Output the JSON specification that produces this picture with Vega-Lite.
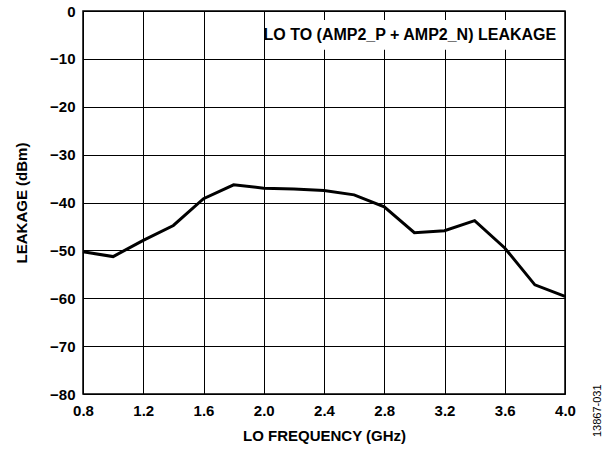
{
  "$schema": "https://vega.github.io/schema/vega-lite/v6.json",
  "autosize": "none",
  "width": 482,
  "height": 383,
  "padding": {"left": 83, "top": 11, "right": 49, "bottom": 55},
  "background": "white",
  "config": {
    "font": "Liberation Sans",
    "view": {"stroke": "black", "strokeWidth": 1.5},
    "axis": {
      "grid": true,
      "gridColor": "black",
      "gridOpacity": 1,
      "gridWidth": 1,
      "domain": false,
      "ticks": false,
      "labelFlush": false,
      "labelFont": "Liberation Sans",
      "labelFontWeight": "bold",
      "labelFontSize": 15,
      "labelColor": "black",
      "titleFont": "Liberation Sans",
      "titleFontWeight": "bold",
      "titleFontSize": 15,
      "titleColor": "black"
    }
  },
  "datasets": {
    "leak": [
      {"f": 0.8, "dbm": -50.3},
      {"f": 1.0, "dbm": -51.3},
      {"f": 1.2, "dbm": -47.9},
      {"f": 1.4, "dbm": -44.8},
      {"f": 1.6, "dbm": -39.2},
      {"f": 1.8, "dbm": -36.3},
      {"f": 2.0, "dbm": -37.0},
      {"f": 2.2, "dbm": -37.2},
      {"f": 2.4, "dbm": -37.5},
      {"f": 2.6, "dbm": -38.4},
      {"f": 2.8, "dbm": -40.9},
      {"f": 3.0, "dbm": -46.3},
      {"f": 3.2, "dbm": -45.9},
      {"f": 3.4, "dbm": -43.8},
      {"f": 3.6, "dbm": -49.5},
      {"f": 3.8, "dbm": -57.2},
      {"f": 4.0, "dbm": -59.6}
    ],
    "box": [
      {"x1": 2.01, "x2": 3.99, "y1": -1.9, "y2": -8.1, "xm": 2.97, "ym": -5, "label": "LO TO (AMP2_P + AMP2_N) LEAKAGE"}
    ],
    "note": [
      {"f": 4.0, "dbm": -80, "label": "13867-031"}
    ]
  },
  "layer": [
    {
      "data": {"name": "leak"},
      "mark": {"type": "line", "color": "black", "strokeWidth": 3, "strokeJoin": "miter"},
      "encoding": {
        "x": {
          "field": "f", "type": "quantitative",
          "scale": {"domain": [0.8, 4.0], "nice": false, "zero": false},
          "axis": {"values": [0.8, 1.2, 1.6, 2.0, 2.4, 2.8, 3.2, 3.6, 4.0], "format": ".1f", "labelPadding": 9, "title": "LO FREQUENCY (GHz)", "titlePadding": 10}
        },
        "y": {
          "field": "dbm", "type": "quantitative",
          "scale": {"domain": [-80, 0], "nice": false, "zero": false},
          "axis": {"values": [0, -10, -20, -30, -40, -50, -60, -70, -80], "labelPadding": 8, "title": "LEAKAGE (dBm)", "titlePadding": 20}
        }
      }
    },
    {
      "data": {"name": "box"},
      "mark": {"type": "rect", "color": "white", "opacity": 1},
      "encoding": {
        "x": {"field": "x1", "type": "quantitative"},
        "x2": {"field": "x2"},
        "y": {"field": "y1", "type": "quantitative"},
        "y2": {"field": "y2"}
      }
    },
    {
      "data": {"name": "box"},
      "mark": {"type": "text", "font": "Liberation Sans", "fontWeight": "bold", "fontSize": 16, "color": "black", "align": "center", "baseline": "middle"},
      "encoding": {
        "x": {"field": "xm", "type": "quantitative"},
        "y": {"field": "ym", "type": "quantitative"},
        "text": {"field": "label"}
      }
    },
    {
      "data": {"name": "note"},
      "mark": {"type": "text", "font": "Liberation Sans", "fontSize": 11, "color": "black", "angle": 270, "align": "left", "baseline": "middle", "dx": -43, "dy": 33},
      "encoding": {
        "x": {"field": "f", "type": "quantitative"},
        "y": {"field": "dbm", "type": "quantitative"},
        "text": {"field": "label"}
      }
    }
  ]
}
